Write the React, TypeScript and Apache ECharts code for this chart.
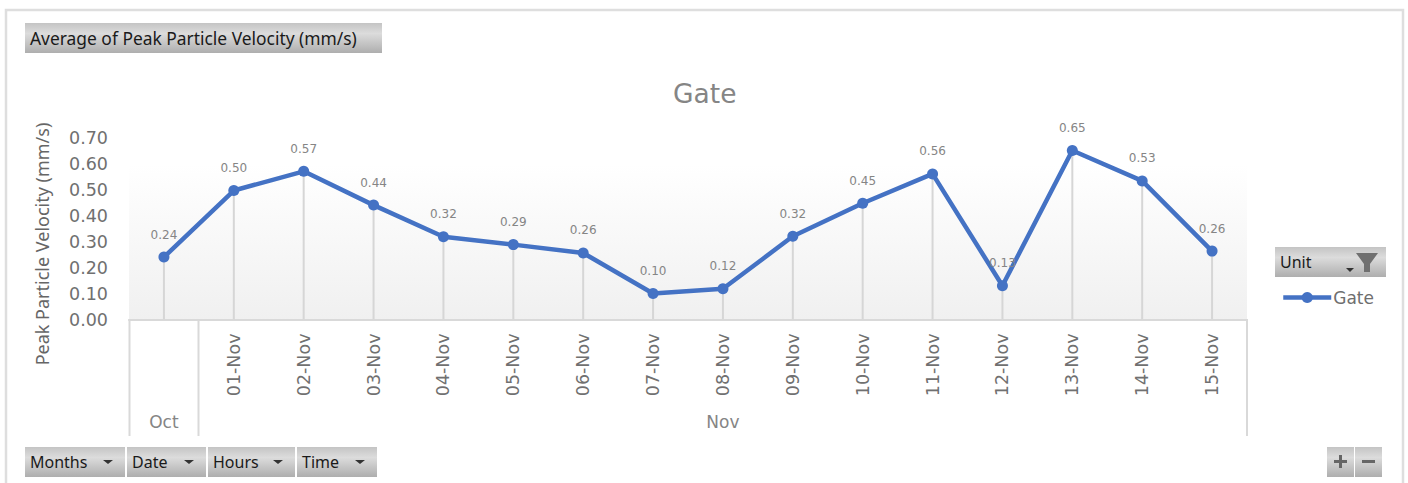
import React, { useEffect, useRef } from "react";
import * as echarts from "echarts";

const dates = ["", "01-Nov", "02-Nov", "03-Nov", "04-Nov", "05-Nov", "06-Nov", "07-Nov", "08-Nov", "09-Nov", "10-Nov", "11-Nov", "12-Nov", "13-Nov", "14-Nov", "15-Nov"];
const months = ["Oct", "", "", "", "", "", "", "", "Nov", "", "", "", "", "", "", ""];
const gate = [0.24, 0.496, 0.57, 0.44, 0.318, 0.288, 0.256, 0.1, 0.118, 0.32, 0.447, 0.56, 0.13, 0.65, 0.533, 0.263];
const yTicks = { min: 0, max: 0.7, interval: 0.1 };
const FONT = "DejaVu Sans";
const BTN_FONT = "Noto Sans";

const btnFill = {
  type: "linear", x: 0, y: 0, x2: 0, y2: 1,
  colorStops: [{ offset: 0, color: "#c4c4c4" }, { offset: 0.35, color: "#dcdcdc" }, { offset: 1, color: "#aeaeae" }],
};

function button(x: number, y: number, w: number, h: number, label: string, size = 16, arrow = true) {
  const out: any[] = [
    { type: "rect", shape: { x, y, width: w, height: h }, style: { fill: btnFill } },
    { type: "text", x: x + 5, y: y + h / 2, style: { text: label, fontFamily: BTN_FONT, fontSize: size, fill: "#1a1a1a", verticalAlign: "middle" } },
  ];
  if (arrow) {
    const ax = x + w - 17;
    const ay = y + h / 2 - 2;
    out.push({ type: "polygon", shape: { points: [[ax - 5, ay], [ax + 5, ay], [ax, ay + 4]] }, style: { fill: "#333" } });
  }
  return out;
}

export default function App() {
  const ref = useRef<HTMLDivElement>(null);
  useEffect(() => {
    const chart = echarts.init(ref.current!, undefined, { renderer: "svg" });
    chart.setOption({
      animation: false,
      backgroundColor: "#fff",
      title: {
        text: "Gate", left: 668, top: 75,
        textStyle: { fontFamily: FONT, fontSize: 26.5, fontWeight: "normal", color: "#858585" },
      },
      legend: {
        left: 1276, top: 284, itemWidth: 48, itemHeight: 14, itemGap: 0,
        data: [{ name: "Gate" }],
        lineStyle: { width: 4.5 },
        textStyle: { fontFamily: FONT, fontSize: 17, color: "#6e6e6e", padding: [0, 0, 0, -3] },
      },
      grid: {
        left: 129, right: 161, top: 137.5, height: 182, show: true, borderWidth: 0,
        backgroundColor: {
          type: "linear", x: 0, y: 0, x2: 0, y2: 1,
          colorStops: [{ offset: 0, color: "#ffffff" }, { offset: 0.15, color: "#ffffff" }, { offset: 1, color: "#f0f0f0" }],
        },
      },
      xAxis: [
        {
          type: "category", data: dates,
          axisLine: { lineStyle: { color: "#d9d9d9", width: 2 } },
          axisTick: { show: false },
          axisLabel: { interval: 0, rotate: 90, margin: 14, fontFamily: FONT, fontSize: 17.5, color: "#707070" },
        },
        {
          type: "category", data: months, position: "bottom", offset: 94,
          axisLine: { show: false }, axisTick: { show: false },
          axisLabel: { interval: 0, margin: 0, fontFamily: FONT, fontSize: 17, color: "#858585", hideOverlap: false, verticalAlign: "top" },
        },
      ],
      yAxis: {
        type: "value", ...yTicks,
        name: "Peak Particle Velocity (mm/s)", nameLocation: "middle", nameGap: 78, nameRotate: 90,
        nameTextStyle: { fontFamily: BTN_FONT, fontSize: 18, color: "#666", padding: [0, 31, 0, 0] },
        axisLine: { show: false }, axisTick: { show: false }, splitLine: { show: false },
        axisLabel: { margin: 21, fontFamily: FONT, fontSize: 17.5, color: "#707070", formatter: (v: number) => v.toFixed(2) },
      },
      series: [
        {
          name: "drop", type: "bar", data: gate, barWidth: 2, itemStyle: { color: "#d6d6d6" }, silent: true, z: 1,
        },
        {
          name: "Gate", type: "line", data: gate, symbol: "circle", symbolSize: 11, z: 3,
          lineStyle: { color: "#4472c4", width: 4.5 }, itemStyle: { color: "#4472c4" },
          label: {
            show: true, position: "top", distance: 11, fontFamily: FONT, fontSize: 12, color: "#858585",
            formatter: (p: any) => p.value.toFixed(2),
          },
        },
      ],
      graphic: [
        { type: "rect", shape: { x: 6, y: 10, width: 1397, height: 480 }, style: { fill: "none", stroke: "#dedede", lineWidth: 2.5 }, z: -10 },
        ...button(25, 23, 357, 30, "Average of Peak Particle Velocity (mm/s)", 17.4, false),
        ...button(25, 447, 100, 30, "Months"),
        ...button(127, 447, 79, 30, "Date"),
        ...button(208, 447, 87, 30, "Hours"),
        ...button(297, 447, 80, 30, "Time"),
        ...button(1275, 247, 111, 30, "Unit", 16, false),
        { type: "polygon", shape: { points: [[1346, 268], [1354, 268], [1350, 272]] }, style: { fill: "#333" } },
        { type: "polygon", shape: { points: [[1356, 253], [1378, 253], [1370, 264], [1370, 272], [1364, 272], [1364, 264]] }, style: { fill: "#707070" } },
        { type: "rect", shape: { x: 1327, y: 447, width: 27, height: 30 }, style: { fill: btnFill } },
        { type: "rect", shape: { x: 1355, y: 447, width: 27, height: 30 }, style: { fill: btnFill } },
        { type: "rect", shape: { x: 1334, y: 460, width: 13, height: 3 }, style: { fill: "#666" } },
        { type: "rect", shape: { x: 1339, y: 455, width: 3, height: 13 }, style: { fill: "#666" } },
        { type: "rect", shape: { x: 1362, y: 460, width: 13, height: 3 }, style: { fill: "#666" } },
        { type: "line", shape: { x1: 129.5, y1: 319, x2: 129.5, y2: 436 }, style: { stroke: "#d9d9d9", lineWidth: 2 } },
        { type: "line", shape: { x1: 198.5, y1: 319, x2: 198.5, y2: 436 }, style: { stroke: "#d9d9d9", lineWidth: 2 } },
        { type: "line", shape: { x1: 1247, y1: 319, x2: 1247, y2: 436 }, style: { stroke: "#d9d9d9", lineWidth: 2 } },
      ],
    });
    return () => chart.dispose();
  }, []);
  return <div ref={ref} style={{ position: "fixed", left: 0, top: 0, width: 1408, height: 483 }} />;
}
